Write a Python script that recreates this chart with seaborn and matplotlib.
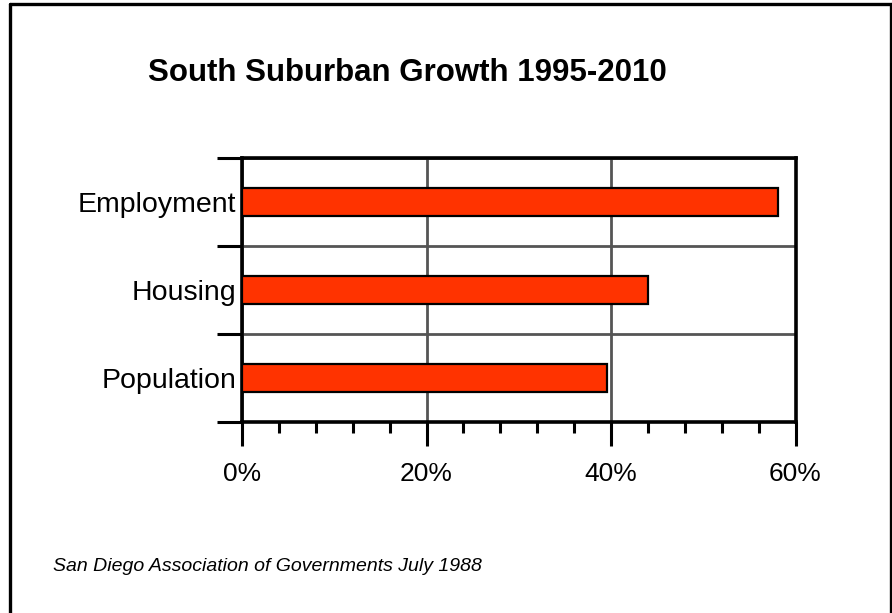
import matplotlib
matplotlib.use("Agg")
import matplotlib.pyplot as plt
import seaborn as sns
import pandas as pd
from matplotlib.ticker import MultipleLocator, FixedLocator
from matplotlib.lines import Line2D

# ---- data ----
categories = ["Employment", "Housing", "Population"]
growth_pct = [58.1, 44.0, 39.6]
x_ticks = [0, 20, 40, 60]
x_tick_labels = ["0%", "20%", "40%", "60%"]
title_text = "South Suburban Growth 1995-2010"
source_text = "San Diego Association of Governments July 1988"

sns.set_style("white")
plt.rcParams["font.family"] = ["Liberation Sans", "DejaVu Sans"]
plt.rcParams["text.color"] = "black"

W, H = 892, 613
fig = plt.figure(figsize=(W / 100, H / 100), dpi=100)
ax = fig.add_axes([242 / W, 1 - 422 / H, (795.5 - 242) / W, (422 - 158) / H])

df = pd.DataFrame({"category": categories, "growth": growth_pct})
sns.barplot(data=df, x="growth", y="category", orient="h", color="#FF3300",
            saturation=1, edgecolor="black", linewidth=1.6, width=0.32,
            ax=ax, zorder=3)

ax.set_xlim(0, 60)
ax.set_ylim(2.5, -0.5)
ax.set_xticks(x_ticks)
ax.set_xticklabels(x_tick_labels)
ax.xaxis.set_minor_locator(MultipleLocator(4))
ax.set_yticks(range(len(categories)))
ax.set_yticklabels(categories)
ax.yaxis.set_minor_locator(FixedLocator([-0.5, 0.5, 1.5, 2.5]))

ax.tick_params(axis="x", which="major", direction="out", length=17.5, width=2.2,
               pad=11, labelsize=19, colors="black", bottom=True)
ax.tick_params(axis="x", which="minor", direction="out", length=8, width=2.2,
               colors="black", bottom=True)
ax.tick_params(axis="y", which="major", length=0, pad=4, labelsize=20.5,
               colors="black", left=True)
ax.tick_params(axis="y", which="minor", direction="out", length=18, width=2.2,
               colors="black", left=True)
ax.set_xlabel("")
ax.set_ylabel("")

ax.set_axisbelow(True)
ax.grid(False)
ax.grid(axis="x", which="major", color="#555555", linewidth=2.0)
ax.grid(axis="y", which="minor", color="#555555", linewidth=2.0)

for s in ax.spines.values():
    s.set_visible(True)
    s.set_color("black")
    s.set_linewidth(2.6)

fig.text(148 / W, 1 - 81 / H, title_text, fontsize=22.5, fontweight="bold",
         va="baseline", ha="left", color="black")
fig.text(53 / W, 1 - 571 / H, source_text, fontsize=14, style="italic",
         va="baseline", ha="left", color="black")

# figure border (left, top, right)
xl, xr, yt = 9.5 / W, 890.5 / W, 1 - 3.7 / H
for xs, ys in [([xl, xl], [0, yt]), ([xl, xr], [yt, yt]), ([xr, xr], [yt, 0])]:
    fig.add_artist(Line2D(xs, ys, transform=fig.transFigure, color="black",
                          linewidth=2.4))

fig.savefig("out.png", dpi=100)
